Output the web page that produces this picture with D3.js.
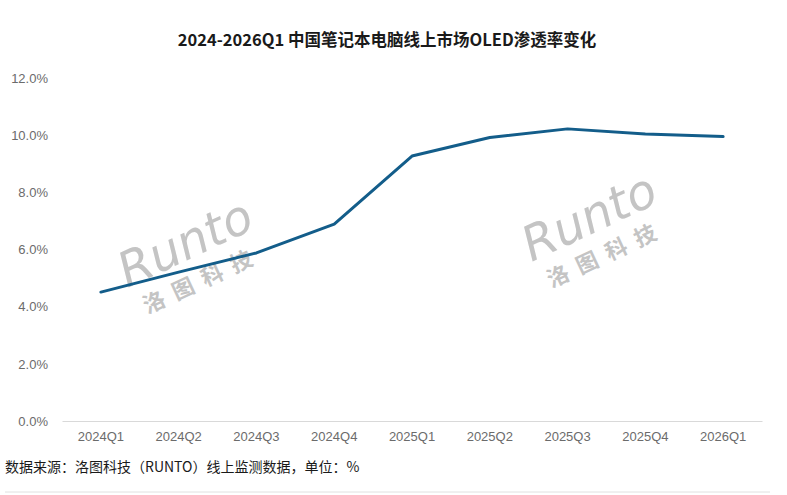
<!DOCTYPE html>
<html>
<head>
<meta charset="utf-8">
<script src="https://cdn.jsdelivr.net/npm/d3@7"></script>
<style>
  body { margin: 0; background: #fff; }
  svg text { font-family: "Liberation Sans", "Noto Sans CJK SC", sans-serif; }
</style>
</head>
<body>
<div id="chart"></div>
<script>
const quarters = ["2024Q1", "2024Q2", "2024Q3", "2024Q4", "2025Q1", "2025Q2", "2025Q3", "2025Q4", "2026Q1"];
const oledShare = [4.51, 5.21, 5.88, 6.89, 9.27, 9.92, 10.22, 10.04, 9.95];
const yTicks = [0, 2, 4, 6, 8, 10, 12];

const W = 787, H = 495;
const margin = { top: 78, right: 25, bottom: 74, left: 62 };
const width = W - margin.left - margin.right;
const height = H - margin.top - margin.bottom;

const svg = d3.select("#chart").append("svg")
  .attr("width", W)
  .attr("height", H);

svg.append("text")
  .attr("x", 387)
  .attr("y", 46)
  .attr("text-anchor", "middle")
  .style("font-family", "'Noto Sans CJK SC', sans-serif")
  .style("font-size", "16.5px")
  .style("font-weight", "bold")
  .attr("fill", "#1a1a1a")
  .text("2024-2026Q1 中国笔记本电脑线上市场OLED渗透率变化");

const g = svg.append("g")
  .attr("transform", `translate(${margin.left},${margin.top})`);

const x = d3.scaleBand().domain(quarters).range([0, width]);
const y = d3.scaleLinear().domain([0, 12]).range([height, 0]);

// watermarks
function watermark(cx, cy) {
  const w = g.append("g")
    .attr("transform", `translate(${cx - margin.left},${cy - margin.top}) rotate(-25)`)
    .attr("fill", "#c4c4c4");
  w.append("text")
    .attr("text-anchor", "middle")
    .attr("y", 0)
    .style("font-size", "48px")
    .style("font-style", "italic")
    .style("font-family", "'DejaVu Sans', sans-serif")
    .style("font-weight", "300")
    .text("Runto");
  w.append("text")
    .attr("text-anchor", "middle")
    .attr("y", 32)
    .style("font-size", "22px")
    .style("font-weight", "bold")
    .style("letter-spacing", "10px")
    .style("font-family", "'Noto Sans CJK SC', sans-serif")
    .text("洛图科技");
}
watermark(192, 258);
watermark(596, 232);

// y axis labels
g.append("g")
  .call(d3.axisLeft(y).tickValues(yTicks).tickFormat(d => d.toFixed(1) + "%").tickSize(0).tickPadding(14))
  .call(a => a.select(".domain").remove())
  .selectAll("text")
  .style("font-size", "13px")
  .attr("fill", "#6b6b6b");

// x axis
const xAxis = g.append("g")
  .attr("transform", `translate(0,${height})`)
  .call(d3.axisBottom(x).tickSize(0).tickPadding(11));
xAxis.select(".domain").attr("stroke", "#d9d9d9");
xAxis.selectAll("text")
  .style("font-size", "13px")
  .attr("fill", "#6b6b6b");

const line = d3.line()
  .x((d, i) => x(quarters[i]) + x.bandwidth() / 2)
  .y(d => y(d));

g.append("path")
  .datum(oledShare)
  .attr("fill", "none")
  .attr("stroke", "#135d8a")
  .attr("stroke-width", 3)
  .attr("stroke-linejoin", "round")
  .attr("stroke-linecap", "round")
  .attr("d", line);

// source note
svg.append("text")
  .attr("x", 5)
  .attr("y", 472)
  .style("font-family", "'Noto Sans CJK SC', sans-serif")
  .style("font-size", "14px")
  .attr("fill", "#1a1a1a")
  .text("数据来源：洛图科技（RUNTO）线上监测数据，单位：%");

svg.append("line")
  .attr("x1", 5).attr("x2", 770)
  .attr("y1", 492).attr("y2", 492)
  .attr("stroke", "#e0e0e0");
</script>
</body>
</html>
